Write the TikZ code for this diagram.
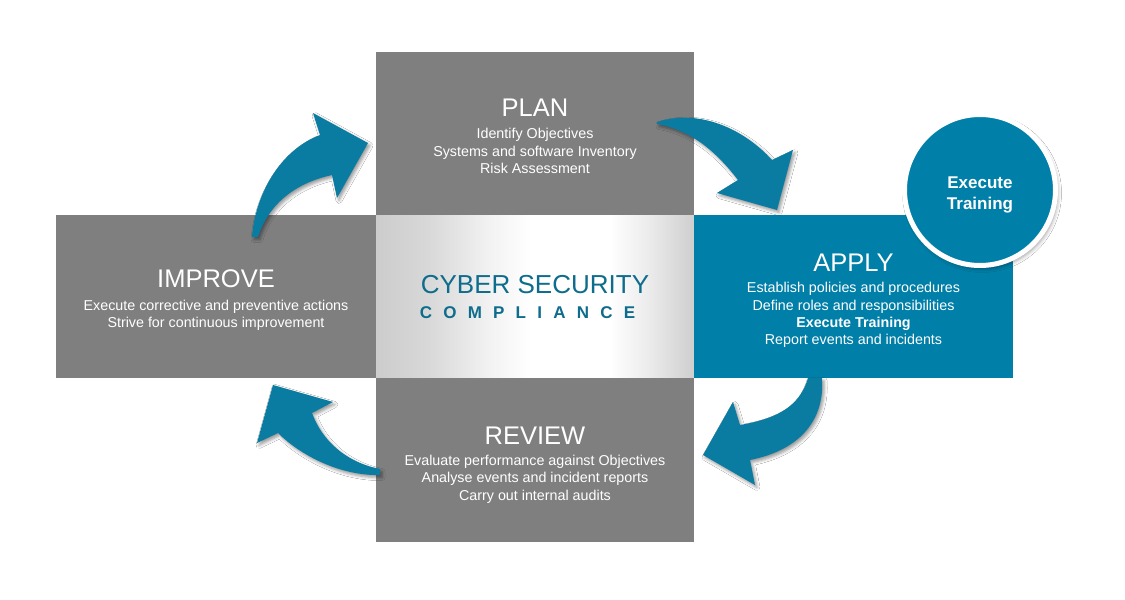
\documentclass[tikz,border=0pt]{standalone}
\usepackage{fontspec}
\setmainfont{Liberation Sans}
\newfontfamily\spacedfont[LetterSpace=66]{Liberation Sans}
\usetikzlibrary{shadows.blur}
\definecolor{boxgray}{RGB}{127,127,127}
\definecolor{tealbox}{RGB}{0,127,168}
\definecolor{arrowteal}{RGB}{10,124,162}
\definecolor{titleteal}{RGB}{14,108,140}
\tikzset{
  panel/.style={rectangle, inner sep=0pt, draw=none},
  graypanel/.style={panel, fill=boxgray},
  titletext/.style={text=white, inner sep=0pt, font=\fontsize{25.5}{25.5}\selectfont},
  bodytext/.style={text=white, inner sep=0pt, align=center, font=\fontsize{14.3}{17.4}\selectfont},
  cyclearrow/.style={fill=arrowteal, blur shadow={shadow xshift=2pt, shadow yshift=-2.5pt, shadow blur radius=3pt, shadow opacity=40}}
}
\begin{document}
\begin{tikzpicture}[x=1pt,y=-1pt]
\useasboundingbox (0,0) rectangle (1125,600);
\fill[white] (0,0) rectangle (1125,600);

% metallic centre, drawn in strips
\shade[left color=black!20, right color=black!15] (376,215) rectangle (430.5,378);
\shade[left color=black!15, right color=black!5] (430,215) rectangle (490.5,378);
\shade[left color=black!5, right color=white] (490,215) rectangle (530.5,378);
\fill[white] (530,215) rectangle (610.5,378);
\shade[left color=white, right color=black!8] (610,215) rectangle (650.5,378);
\shade[left color=black!8, right color=black!19] (650,215) rectangle (694,378);

% panels
\node[graypanel, minimum width=318pt, minimum height=163pt] (plan) at (535,133.5) {};
\node[panel, minimum width=318pt, minimum height=163pt] (center) at (535,296.5) {};
\node[graypanel, minimum width=318pt, minimum height=164pt] (review) at (535,460) {};
\node[graypanel, minimum width=320pt, minimum height=163pt] (improve) at (216,296.5) {};
\node[panel, fill=tealbox, minimum width=319pt, minimum height=163pt] (apply) at (853.5,296.5) {};

% arrows
% IMPROVE -> PLAN
\fill[cyclearrow] (252,237) .. controls (255,195) and (280,150) .. (320,135)
  -- (313,113) -- (368,143) -- (337,198) -- (332,175)
  .. controls (300,182) and (270,200) .. (258,237) -- cycle;
% PLAN -> APPLY
\fill[cyclearrow] (657,122) .. controls (700,108) and (745,130) .. (772,160)
  -- (793,150) -- (777,210) -- (717,193) -- (738,180)
  .. controls (715,150) and (690,130) .. (657,124) -- cycle;
% APPLY -> REVIEW
\fill[cyclearrow] (808,378) .. controls (800,405) and (780,418) .. (740,425)
  -- (733,402) -- (703,455) -- (755,485) -- (750,460)
  .. controls (800,450) and (825,420) .. (822,378) -- cycle;
% REVIEW -> IMPROVE
\fill[cyclearrow] (380,469) .. controls (345,462) and (322,440) .. (312,413)
  -- (333,402) -- (273,385) -- (257,443) -- (278,433)
  .. controls (300,455) and (340,476) .. (380,475) -- cycle;

% circle
\node[circle, fill=tealbox, draw=white, line width=5pt, minimum size=151pt, inner sep=0pt,
  blur shadow={shadow xshift=2pt, shadow yshift=-3pt, shadow blur radius=4pt, shadow opacity=40}] (training) at (980,190) {};
\node[text=white, align=center, inner sep=0pt, font=\bfseries\fontsize{17}{21}\selectfont] (trainingtext) at (980,195) {Execute\\Training};

% texts
\node[titletext] (plantitle) at (535,108) {PLAN};
\node[bodytext] (planbody) at (535,151) {Identify Objectives\\Systems and software Inventory\\Risk Assessment};

\node[titletext] (improvetitle) at (216,279) {IMPROVE};
\node[bodytext] (improvebody) at (216,315) {Execute corrective and preventive actions\\Strive for continuous improvement};

\node[titletext] (applytitle) at (853.5,263) {APPLY};
\node[bodytext] (applybody) at (853.5,315) {Establish policies and procedures\\Define roles and responsibilities\\\textbf{Execute Training}\\Report events and incidents};

\node[titletext] (reviewtitle) at (535,436) {REVIEW};
\node[bodytext] (reviewbody) at (535,479) {Evaluate performance against Objectives\\Analyse events and incident reports\\Carry out internal audits};

\node[text=titleteal, inner sep=0pt, font=\fontsize{26}{26}\selectfont] (cyber) at (535,285) {CYBER SECURITY};
\node[text=titleteal, inner sep=0pt, font=\spacedfont\bfseries\fontsize{17}{17}\selectfont] (compliance) at (527.5,313) {COMPLIANCE};
\end{tikzpicture}
\end{document}
